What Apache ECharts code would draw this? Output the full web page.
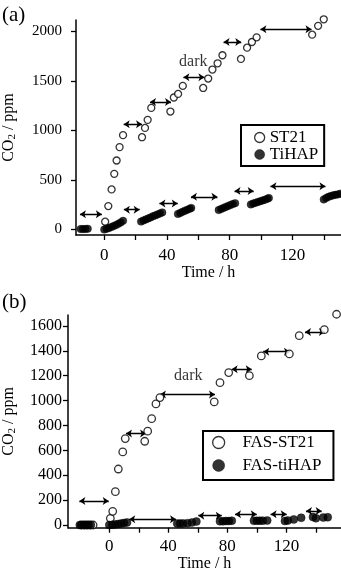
<!DOCTYPE html>
<html><head><meta charset="utf-8">
<script src="https://cdn.jsdelivr.net/npm/echarts@6/dist/echarts.min.js"></script>
<style>html,body{margin:0;padding:0;background:#fff}#c{width:341px;height:575px}</style>
</head><body><div id="c"></div>
<script>
// ---- Panel (a) data ----
const st21 = [[0.6,79],[2.6,237],[4.7,405],[6.4,562],[7.9,697],[9.8,832],[12,953],
  [24.1,932],[26,1026],[27.7,1107],[30,1228],
  [42.2,1191],[44.4,1333],[47.1,1369],[50.1,1450],
  [63.1,1429],[66.3,1524],[69,1615],[72.3,1678],[75.4,1759],
  [87.2,1722],[91.1,1836],[94.2,1893],[97.2,1940],
  [132.6,1967],[136.4,2056],[140,2122]];
const tihap = [[-15,5],[-13.5,5],[-12,6],[-10.5,8],
  [0,0],[1.5,8],[3,15],[4.5,25],[6,35],[7.5,45],[9,58],[10.5,72],[12,88],
  [23.5,80],[25,92],[26.5,102],[28,112],[29.5,122],[31,133],[32.5,143],[34,153],[35.5,163],[37,173],
  [47,158],[48.5,168],[50,180],[51.5,190],[53,200],[54.5,210],[55.5,218],
  [73,197],[74.5,207],[76,218],[77.5,228],[79,238],[80.5,248],[82,257],[83.5,266],
  [93.5,254],[95,262],[96.5,270],[98,278],[99.5,286],[101,294],[102.5,302],[104,310],[105,318],
  [140,304],[141.5,318],[143,330],[144.5,338],[146,345],[147.5,350],[149,355],[150.5,362]];
// dark-period arrows: [start h, end h, ppm]
const arrowsA = [[-15.5,-1.5,155],[12.5,22.6,200],[35.2,46.9,264],[55.3,72.2,331],[83.1,95.3,388],[106,141.1,438],
  [12.4,24.1,1063],[29.2,42.6,1288],[50.5,63.9,1537],[76.1,87.4,1893],[99.6,132.2,2021]];
const darkLabelA = [[56.8,1690]];
const xTicksA = [0,20,40,60,80,100,120,140];
const xLabelsA = [0,40,80,120];
const yTicksA = [0,500,1000,1500,2000];

// ---- Panel (b) data ----
const fasSt21 = [[-19,0],[-17,0],[-15,0],[-13,0],[-11,0],
  [0.7,54],[2.3,110],[4.1,268],[6.1,450],[9.1,587],[10.8,695],
  [24,673],[26,754],[28.7,855],[31.6,973],[34.3,1024],
  [71.1,989],[75,1144],[80.9,1225],[94.9,1200],[103,1359],[122,1375],[128.7,1522],[145.7,1570],[154,1694]];
const fasTihap = [[-20,0],[-18.5,0],[-17,0],[-15.5,0],[-14,0],[-12.5,0],
  [0,0],[2,2],[4,5],[6,8],[8,12],[10,16],[12,20],
  [46,12],[48,12],[50,13],[53,15],[56,20],[59,28],
  [75,30],[77,30],[79,32],[81,32],[83,34],
  [98,34],[100,34],[102,35],[104,35],[107,36],
  [119,32],[121,36],[125,45],[130,58],
  [138,64],[140,55],[145,60],[148,62]];
const arrowsB = [[-20.3,-0.4,192],[13.5,45.2,47],[60.3,76.2,75],[85.2,99.9,86],[109.3,120.2,86],[133.3,143.9,113],
  [11.3,24.9,735],[34.3,71.6,1048],[82.9,96.5,1251],[104.3,122.4,1393],[132.6,146.1,1552]];
const darkLabelB = [[53.5,1198]];
const xTicksB = [0,20,40,60,80,100,120,140];
const xLabelsB = [0,40,80,120];
const yTicksB = [0,200,400,600,800,1000,1200,1400,1600];

const FF = '"Liberation Serif", "Times New Roman", serif';
const chart = echarts.init(document.getElementById('c'), null, {renderer:'canvas'});

function xAxis(grid, min, max, ticks, labels, margin, gap){
  return {type:'value', gridIndex:grid, min:min, max:max, splitLine:{show:false},
    axisLine:{onZero:false, lineStyle:{color:'#000', width:1.5}},
    axisTick:{show:true, customValues:ticks, length:5, lineStyle:{color:'#000', width:1.3}},
    axisLabel:{customValues:labels, formatter:v=>String(v), color:'#000', fontFamily:FF, fontSize:17, margin:margin},
    name:'Time / h', nameLocation:'middle', nameGap:gap,
    nameTextStyle:{color:'#000', fontFamily:FF, fontSize:16}};
}
function yAxis(grid, min, max, ticks, fs, margin, gap){
  return {type:'value', gridIndex:grid, min:min, max:max, splitLine:{show:false},
    axisLine:{onZero:false, lineStyle:{color:'#000', width:1.5}},
    axisTick:{show:true, customValues:ticks, length:5, lineStyle:{color:'#000', width:1.3}},
    axisLabel:{customValues:ticks, formatter:v=>String(v), color:'#000', fontFamily:FF, fontSize:fs, margin:margin},
    name:'{a|CO}{s|2}{a| / ppm}', nameLocation:'middle', nameGap:gap,
    nameTextStyle:{color:'#000', rich:{
      a:{fontFamily:FF, fontSize:16, lineHeight:18, color:'#000'},
      s:{fontFamily:FF, fontSize:11, lineHeight:11, verticalAlign:'bottom', color:'#000'}}}};
}
const openStyle = {color:'#fff', borderColor:'#000', borderWidth:1.3};
const fillStyle = {color:'#000', borderColor:'#000', borderWidth:0.5};
function arrows(list, xi, yi){
  return {type:'lines', coordinateSystem:'cartesian2d', xAxisIndex:xi, yAxisIndex:yi,
    symbol:['arrow','arrow'], symbolSize:6, silent:true, z:3,
    lineStyle:{color:'#000', width:1.3, opacity:1},
    data:list.map(a=>({coords:[[a[0],a[2]],[a[1],a[2]]]}))};
}
function darkLabel(pt, xi, yi){
  return {type:'scatter', xAxisIndex:xi, yAxisIndex:yi, symbolSize:0, silent:true, clip:false,
    label:{show:true, position:'inside', formatter:'dark', color:'#000', fontFamily:FF, fontSize:16},
    data:pt};
}

chart.setOption({
  animation:false,
  backgroundColor:'#fff',
  grid:[{left:76, top:20, width:265, height:215, containLabel:false, outerBoundsMode:'none'},
        {left:68, top:315, width:273, height:212.7, containLabel:false, outerBoundsMode:'none'}],
  xAxis:[xAxis(0,-18,151,xTicksA,xLabelsA,12,30), xAxis(1,-28,157,xTicksB,xLabelsB,10,28)],
  yAxis:[yAxis(0,-55,2115,yTicksA,15,14,58), yAxis(1,-21.7,1688,yTicksB,16,6,50)],
  legend:[
    {left:241, top:125, orient:'vertical', itemWidth:10, itemHeight:10, itemGap:0,
     padding:[4,6,3,13], borderColor:'#000', borderWidth:2, backgroundColor:'#fff',
     textStyle:{color:'#000', fontFamily:FF, fontSize:17},
     data:[{name:'ST21', icon:'circle', itemStyle:openStyle},{name:'TiHAP', icon:'circle', itemStyle:fillStyle}]},
    {left:203, top:431, orient:'vertical', itemWidth:12, itemHeight:12, itemGap:6,
     padding:[3,12,6,9], borderColor:'#000', borderWidth:2, backgroundColor:'#fff',
     formatter:n=>'   '+n,
     textStyle:{color:'#000', fontFamily:FF, fontSize:17},
     data:[{name:'FAS-ST21', icon:'circle', itemStyle:openStyle},{name:'FAS-tiHAP', icon:'circle', itemStyle:fillStyle}]}
  ],
  graphic:[
    {type:'text', left:2, top:5, style:{text:'(a)', fill:'#000', font:'21px '+FF}},
    {type:'text', left:2, top:292, style:{text:'(b)', fill:'#000', font:'21px '+FF}}
  ],
  series:[
    {name:'ST21', type:'scatter', xAxisIndex:0, yAxisIndex:0, symbol:'circle', symbolSize:7, clip:false, itemStyle:openStyle, z:4, data:st21},
    {name:'TiHAP', type:'scatter', xAxisIndex:0, yAxisIndex:0, symbol:'circle', symbolSize:7.5, clip:false, itemStyle:fillStyle, z:5, data:tihap},
    arrows(arrowsA,0,0),
    darkLabel(darkLabelA,0,0),
    {name:'FAS-ST21', type:'scatter', xAxisIndex:1, yAxisIndex:1, symbol:'circle', symbolSize:7.5, clip:false, itemStyle:openStyle, z:4, data:fasSt21},
    {name:'FAS-tiHAP', type:'scatter', xAxisIndex:1, yAxisIndex:1, symbol:'circle', symbolSize:8, clip:false, itemStyle:fillStyle, z:5, data:fasTihap},
    arrows(arrowsB,1,1),
    darkLabel(darkLabelB,1,1)
  ]
});
</script></body></html>
